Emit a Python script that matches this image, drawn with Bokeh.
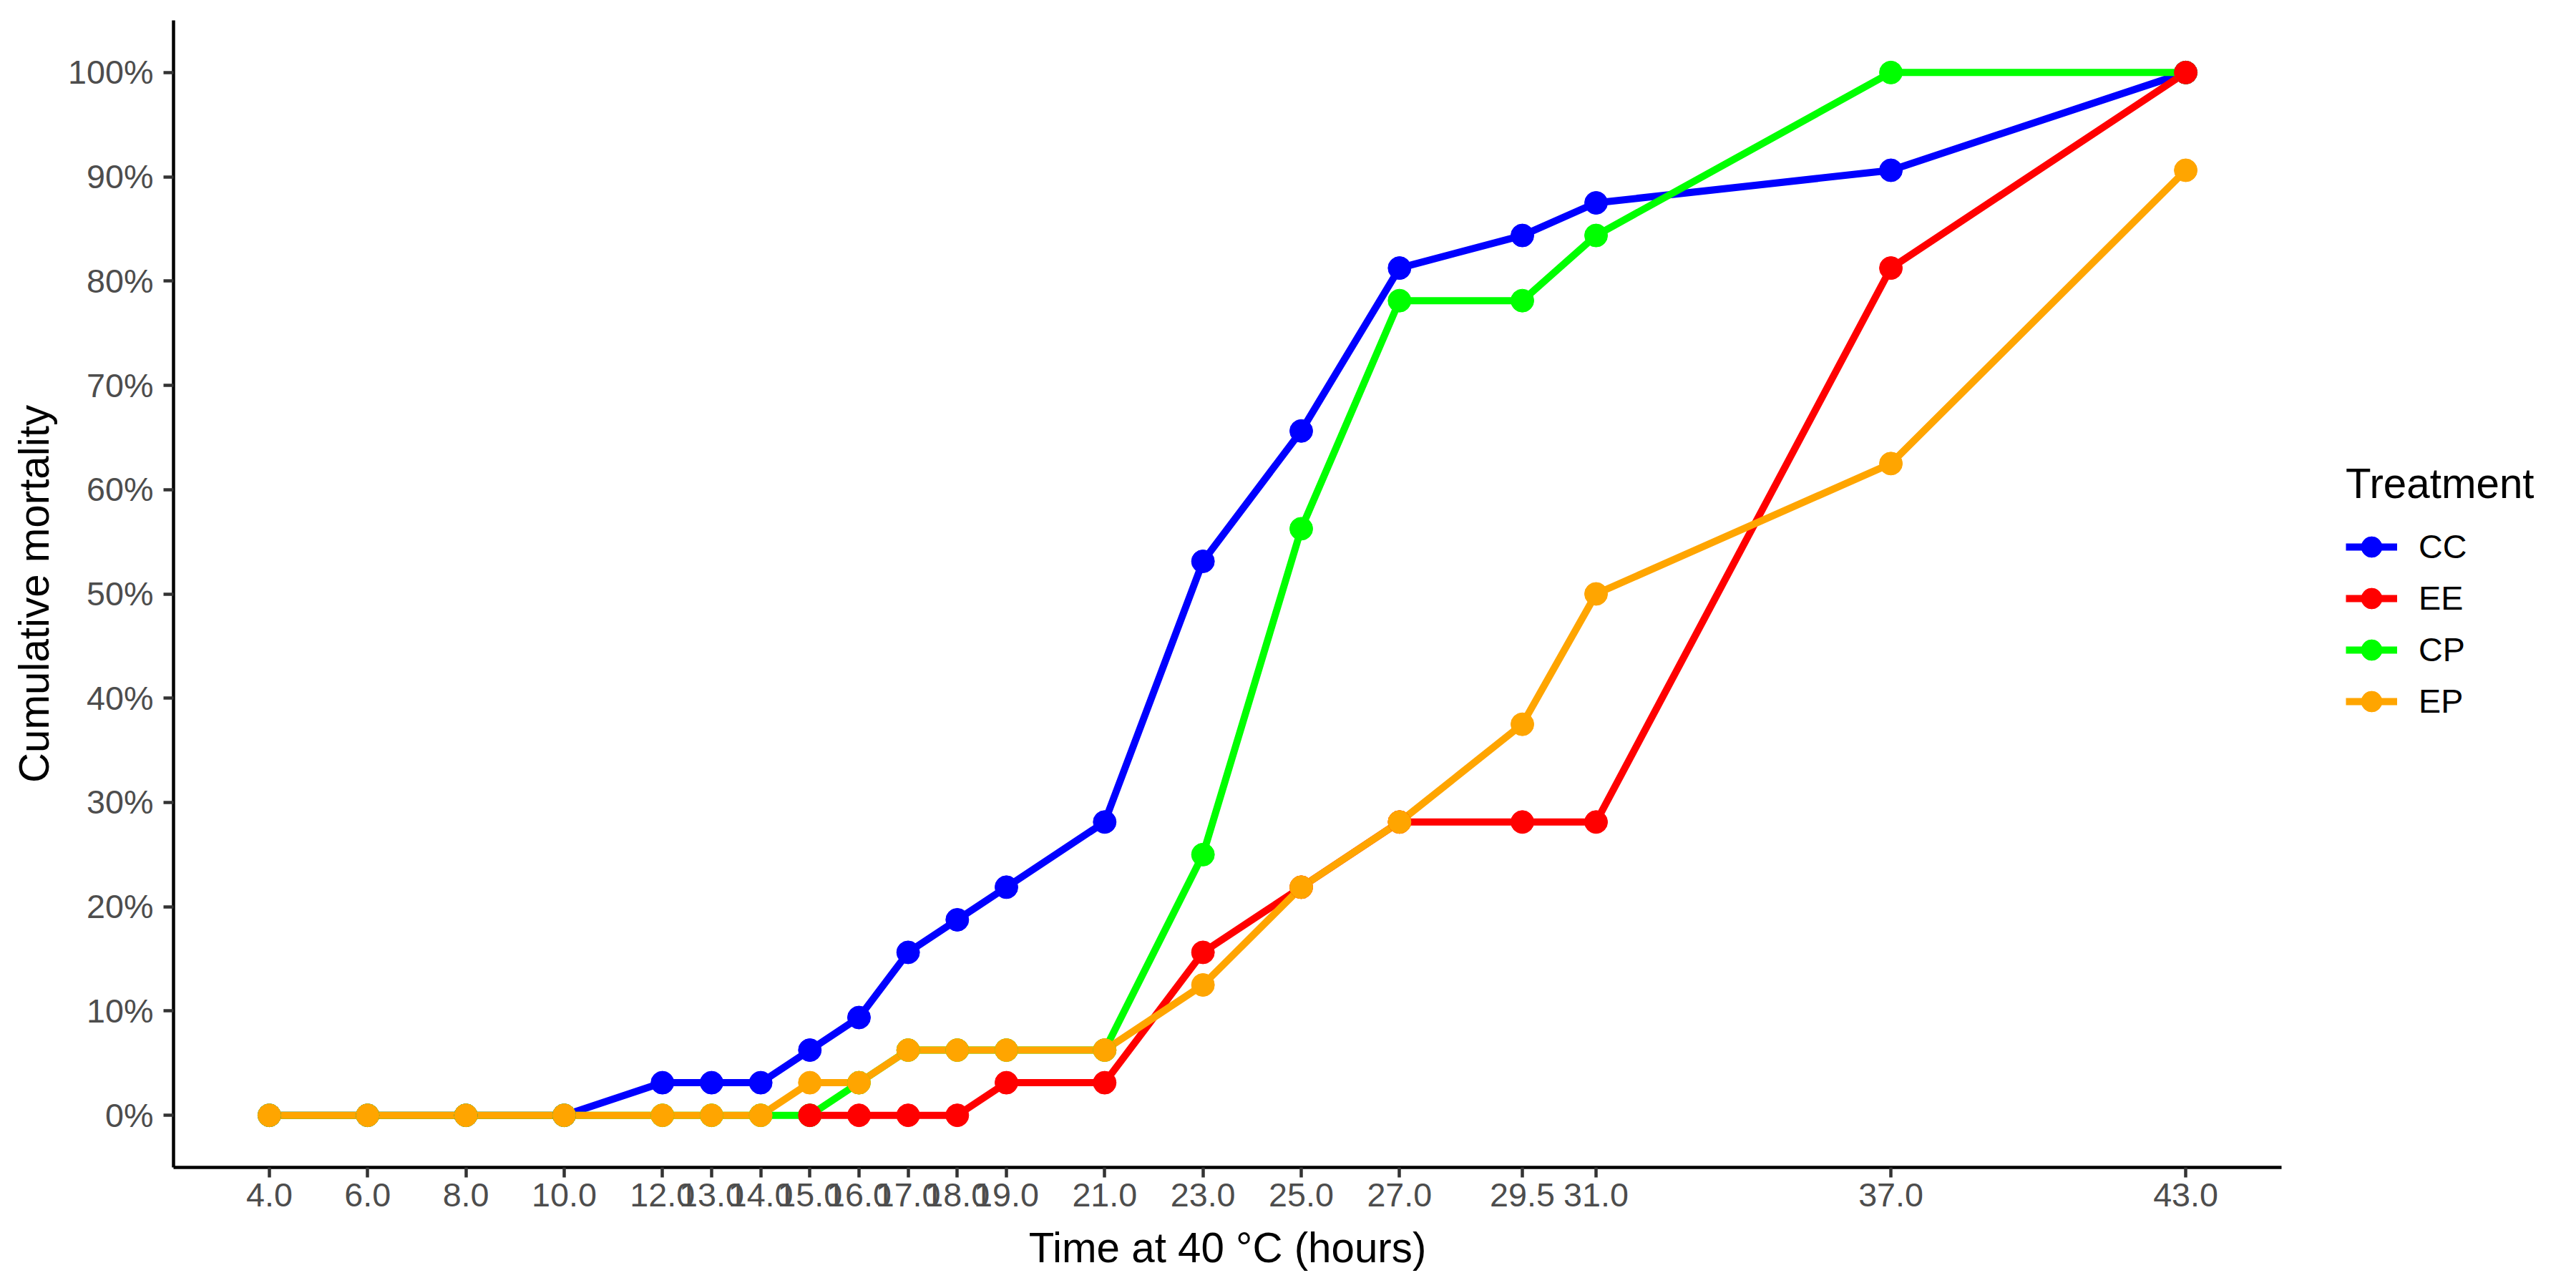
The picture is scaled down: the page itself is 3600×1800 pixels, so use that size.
from bokeh.plotting import figure
from bokeh.layouts import row
from bokeh.models import FixedTicker, CustomJSTickFormatter, Legend, LegendItem
from bokeh.embed import file_html
from bokeh.resources import INLINE

# hours at 40 °C
hours = [4, 6, 8, 10, 12, 13, 14, 15, 16, 17, 18, 19, 21, 23, 25, 27, 29.5, 31, 37, 43]
hours_ee = [15, 16, 17, 18, 19, 21, 23, 25, 27, 29.5, 31, 37, 43]

# cumulative mortality (%)
cc = [0, 0, 0, 0, 3.125, 3.125, 3.125, 6.25, 9.375, 15.625, 18.75, 21.875, 28.125,
      53.125, 65.625, 81.25, 84.375, 87.5, 90.625, 100]
ee = [0, 0, 0, 0, 3.125, 3.125, 15.625, 21.875, 28.125, 28.125, 28.125, 81.25, 100]
cp = [0, 0, 0, 0, 0, 0, 0, 0, 3.125, 6.25, 6.25, 6.25, 6.25,
      25, 56.25, 78.125, 78.125, 84.375, 100, 100]
ep = [0, 0, 0, 0, 0, 0, 0, 3.125, 3.125, 6.25, 6.25, 6.25, 6.25,
      12.5, 21.875, 28.125, 37.5, 50, 62.5, 90.625]

y_ticks = [0, 10, 20, 30, 40, 50, 60, 70, 80, 90, 100]

series = [
    ("CC", hours, cc, "#0000FF"),
    ("EE", hours_ee, ee, "#FF0000"),
    ("CP", hours, cp, "#00FF00"),
    ("EP", hours, ep, "#FFA500"),
]

FONT = "Liberation Sans"

p = figure(
    width=3198, height=1784,
    x_range=(2.05, 44.95), y_range=(-5, 105),
    output_backend="svg", toolbar_location=None,
    min_border_left=242, min_border_right=10,
    min_border_top=28, min_border_bottom=153,
)
p.outline_line_color = None
p.xgrid.visible = False
p.ygrid.visible = False

for name, xs, ys, col in series:
    p.line(xs, ys, line_color=col, line_width=10, line_join="round")

# points drawn after all lines
for name in ["CC", "CP", "EE", "EP"]:
    _, xs, ys, col = [s for s in series if s[0] == name][0]
    p.scatter(xs, ys, size=32, fill_color=col, line_color=col, line_width=1)

p.xaxis.ticker = FixedTicker(ticks=hours)
p.xaxis.formatter = CustomJSTickFormatter(code="return tick.toFixed(1);")
p.yaxis.ticker = FixedTicker(ticks=y_ticks)
p.yaxis.formatter = CustomJSTickFormatter(code="return tick.toFixed(0) + '%';")

p.xaxis.axis_label = "Time at 40 °C (hours)"
p.yaxis.axis_label = "Cumulative mortality"

for ax in [p.xaxis[0], p.yaxis[0]]:
    ax.axis_line_color = "black"
    ax.axis_line_width = 4.5
    ax.major_tick_line_color = "#333333"
    ax.major_tick_line_width = 4.5
    ax.major_tick_out = 14
    ax.major_tick_in = 0
    ax.minor_tick_line_color = None
    ax.major_label_text_font = FONT
    ax.major_label_text_font_size = "46.7px"
    ax.major_label_text_color = "#4D4D4D"
    ax.axis_label_text_font = FONT
    ax.axis_label_text_font_size = "58.3px"
    ax.axis_label_text_font_style = "normal"
    ax.axis_label_text_color = "black"

p.xaxis.major_label_standoff = 8
p.xaxis.axis_label_standoff = 22
p.yaxis.major_label_standoff = 14
p.yaxis.axis_label_standoff = 12

# legend lives in its own narrow panel to the right of the plot;
# its renderers carry the same data but the ranges keep them off screen
pl = figure(
    width=386, height=1784,
    x_range=(-100, -99), y_range=(-100, -99),
    x_axis_type=None, y_axis_type=None,
    output_backend="svg", toolbar_location=None,
    min_border=0,
)
pl.outline_line_color = None
pl.xgrid.visible = False
pl.ygrid.visible = False

items = []
for name, xs, ys, col in series:
    ln = pl.line(xs, ys, line_color=col, line_width=10)
    pt = pl.scatter(xs, ys, size=32, fill_color=col, line_color=col)
    items.append(LegendItem(label=name, renderers=[ln, pt]))

legend = Legend(
    items=items,
    location=(80, 615),
    title="Treatment",
    title_text_font=FONT, title_text_font_size="58.3px",
    title_text_font_style="normal", title_text_color="black",
    title_standoff=19,
    label_text_font=FONT, label_text_font_size="46.7px", label_text_color="black",
    glyph_width=72, glyph_height=72, label_height=72,
    label_standoff=30, spacing=0, padding=0, margin=0,
    border_line_color=None, background_fill_alpha=0,
)
pl.add_layout(legend)

layout = row(p, pl)
open("out.html", "w").write(file_html(layout, INLINE))
